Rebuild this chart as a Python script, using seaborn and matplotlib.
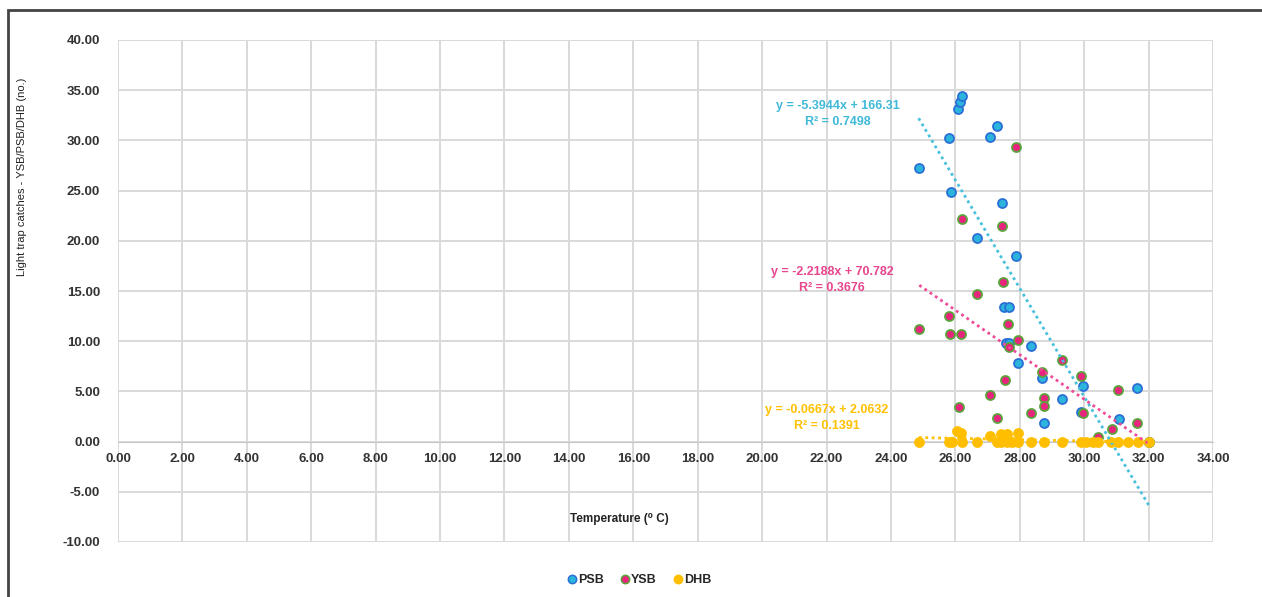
import matplotlib
matplotlib.use("Agg")
import matplotlib.pyplot as plt
import numpy as np
import pandas as pd
import seaborn as sns
from matplotlib.lines import Line2D
from matplotlib.patches import Rectangle

# PSB (x = temperature, y = catches)
psb_temp = [24.86, 25.80, 25.86, 26.07, 26.15, 26.20, 26.68, 27.07, 27.30, 27.46,
            27.87, 27.51, 27.67, 27.56, 27.67, 28.34, 27.95, 28.70, 28.75, 29.32,
            29.95, 29.90, 31.07, 31.65, 32.00]
psb_catch = [27.3, 30.2, 24.9, 33.1, 33.8, 34.4, 20.3, 30.3, 31.4, 23.75,
             18.5, 13.4, 13.45, 9.85, 9.85, 9.5, 7.8, 6.35, 1.9, 4.2,
             5.5, 2.95, 2.25, 5.3, 0.0]

# YSB
ysb_temp = [24.88, 25.80, 25.83, 26.11, 26.16, 26.20, 26.68, 27.08, 27.30, 27.46,
            27.48, 27.53, 27.62, 27.67, 27.87, 27.95, 28.34, 28.70, 28.75, 28.75,
            29.32, 29.90, 29.95, 30.44, 30.85, 31.05, 31.64, 32.00]
ysb_catch = [11.25, 12.5, 10.7, 3.4, 10.7, 22.2, 14.7, 4.6, 2.4, 21.5,
             15.9, 6.1, 11.7, 9.45, 29.3, 10.1, 2.8, 6.9, 4.35, 3.55,
             8.1, 6.5, 2.8, 0.45, 1.25, 5.1, 1.9, 0.0]

# DHB
dhb_temp = [26.06, 26.18, 27.08, 27.43, 27.60, 27.95,
            24.87, 25.80, 25.90, 26.20, 26.68, 27.30, 27.41, 27.60, 27.77, 27.93,
            28.34, 28.75, 29.32, 29.90, 30.06, 30.26, 30.43, 30.83, 31.04, 31.35,
            31.66, 32.02]
dhb_catch = [1.05, 0.9, 0.6, 0.8, 0.8, 0.85,
             0, 0, 0, 0, 0, 0, 0, 0, 0, 0,
             0, 0, 0, 0, 0, 0, 0, 0, 0, 0,
             0, 0]

# trendline coefficients as printed on the chart
series_names = ["PSB", "YSB", "DHB"]
slopes = [-5.3944, -2.2188, -0.0667]
intercepts = [166.31, 70.782, 2.0632]
r_squared = ["0.7498", "0.3676", "0.1391"]
eq_labels = ["y = -5.3944x + 166.31", "y = -2.2188x + 70.782", "y = -0.0667x + 2.0632"]

x_ticks = np.arange(0, 34.01, 2)
y_ticks = np.arange(-10, 40.01, 5)

fill_cols = ["#2bb5dc", "#e8247c", "#ffbf00"]
edge_cols = ["#2a6fd6", "#5aa33c", "#ffbf00"]
line_cols = ["#48c0dc", "#ee4c98", "#ffc000"]
text_cols = ["#3fb9d8", "#e8468e", "#ffc000"]

sns.set_style("white")
plt.rcParams["font.family"] = ["Liberation Sans", "DejaVu Sans"]

fig = plt.figure(figsize=(12.62, 5.97), dpi=100)
ax = fig.add_axes([118 / 1262, 1 - 542 / 597, 1095 / 1262, 502 / 597])

data = [(psb_temp, psb_catch), (ysb_temp, ysb_catch), (dhb_temp, dhb_catch)]
for i, (tx, cy) in enumerate(data):
    df = pd.DataFrame({"temp": tx, "catch": cy})
    sns.scatterplot(data=df, x="temp", y="catch", ax=ax, s=42, color=fill_cols[i],
                    edgecolor=edge_cols[i], linewidth=1.3, zorder=3 + i, legend=False)

for i, (tx, cy) in enumerate(data):
    xs = np.array([min(tx), max(tx)])
    ax.plot(xs, slopes[i] * xs + intercepts[i], ls=(0, (1, 1.3)), lw=2,
            color=line_cols[i], zorder=7)

# equation labels
eq_pos = [(838, 114), (832, 280), (827, 418)]
for i, (px, py) in enumerate(eq_pos):
    fig.text(px / 1262, 1 - py / 597, eq_labels[i] + "\nR² = " + r_squared[i],
             ha="center", va="center", fontsize=9, fontweight="bold",
             color=text_cols[i], linespacing=1.45)

ax.set_xlim(0, 34)
ax.set_ylim(-10, 40)
ax.set_xticks(x_ticks)
ax.set_yticks(y_ticks)
ax.set_xticklabels([f"{v:.2f}" for v in x_ticks])
ax.set_yticklabels([f"{v:.2f}" for v in y_ticks])
ax.grid(True, color="#d9d9d9", lw=1.4)
ax.set_axisbelow(True)
for s in ["top", "right", "left"]:
    ax.spines[s].set_visible(False)
ax.spines["bottom"].set_position(("data", 0))
ax.spines["bottom"].set_color("#c8c8c8")
ax.tick_params(axis="both", length=0, labelsize=9.5, labelcolor="#333333")
ax.tick_params(axis="x", pad=8)
ax.tick_params(axis="y", pad=13)
for lab in ax.get_xticklabels() + ax.get_yticklabels():
    lab.set_fontweight("bold")

ax.set_xlabel("Temperature (⁰ C)", fontsize=8.5, fontweight="bold", color="#222222")
ax.xaxis.set_label_coords(0.458, 0.058)
ax.set_ylabel("Light trap catches - YSB/PSB/DHB (no.)", fontsize=8, color="#222222")
ax.yaxis.set_label_coords(-0.083, 0.727)

handles = [Line2D([], [], ls="", marker="o", markersize=6, markerfacecolor=fill_cols[i],
                  markeredgecolor=edge_cols[i], markeredgewidth=1.1) for i in range(3)]
leg = fig.legend(handles, series_names, loc="center", ncol=3, frameon=False,
                 bbox_to_anchor=(638 / 1262, 1 - 580 / 597), handletextpad=-0.1,
                 handlelength=1.2, columnspacing=1.1, prop={"weight": "bold", "size": 9})

fig.patches.append(Rectangle((8 / 1262, -0.1), 1.2, 1 - 10 / 597 + 0.1, transform=fig.transFigure,
                             fill=False, edgecolor="#444444", lw=2))

fig.savefig("out.png", dpi=100)
